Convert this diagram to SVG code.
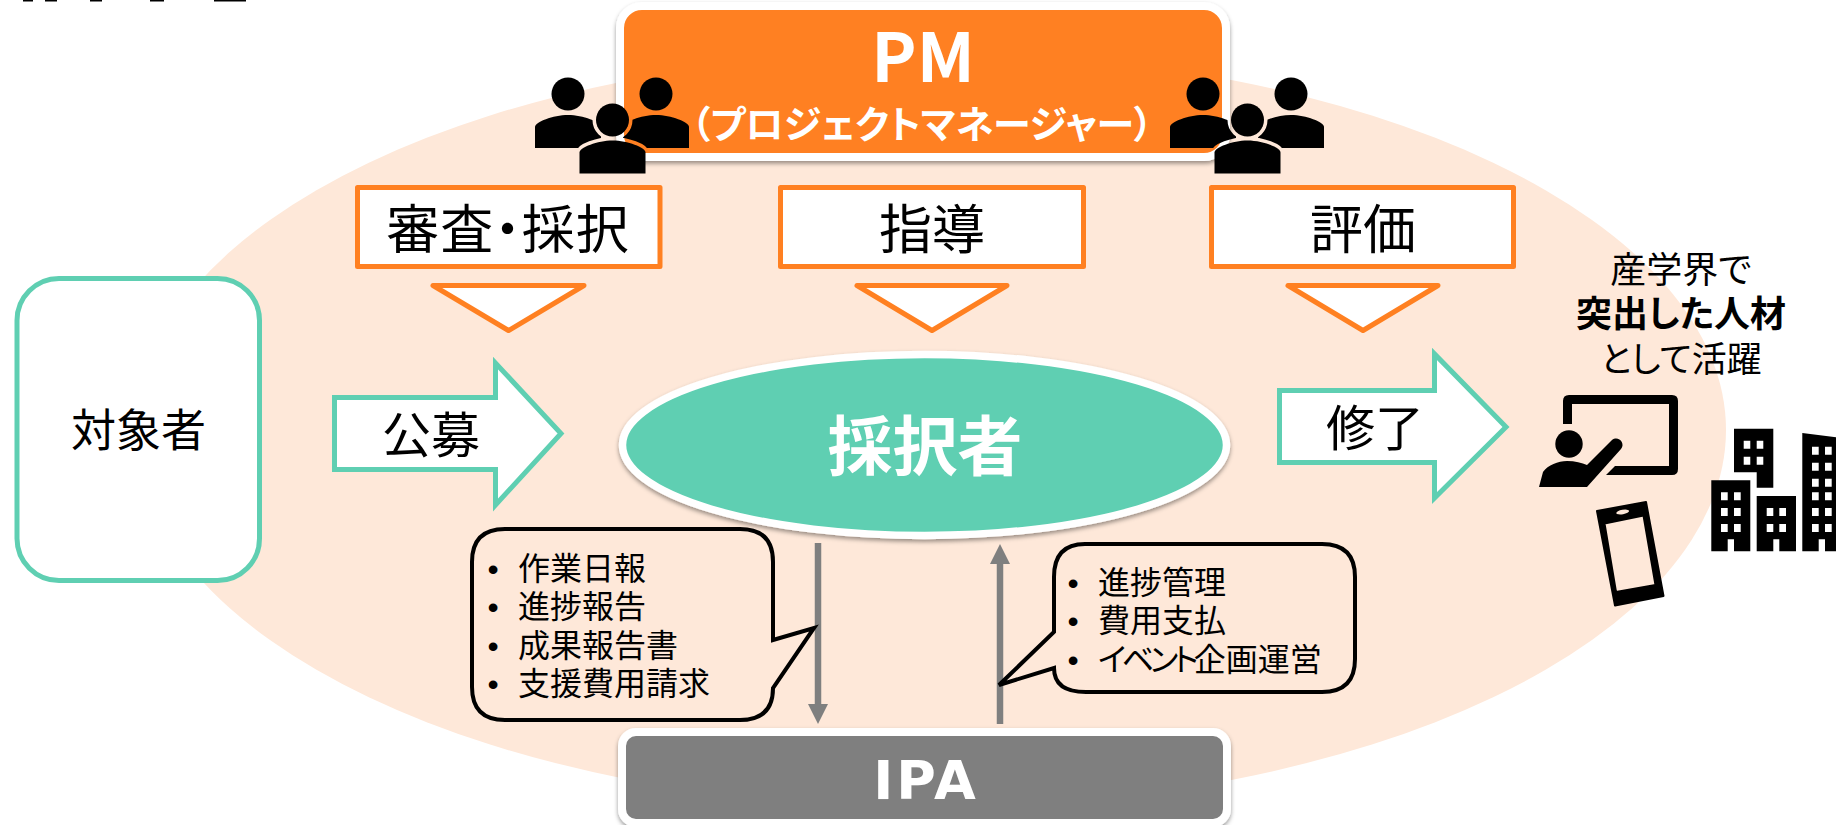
<svg xmlns="http://www.w3.org/2000/svg" width="1836" height="825" viewBox="0 0 1836 825">
<style>
text{font-family:"Noto Sans CJK JP","Noto Sans",sans-serif;fill:#000;font-feature-settings:"palt"}
.c{text-anchor:middle}
.w{fill:#fff;font-weight:700}
.org{fill:#fff;stroke:#FF8021;stroke-width:5;stroke-linejoin:round}
.teal{fill:#fff;stroke:#5FCFB2;stroke-width:5}
.call{fill:#FEE8D9;stroke:#000;stroke-width:4;stroke-linejoin:miter}
.lbl{font-size:53px}
.big{font-size:45px}
.arw{font-size:49px}
.li{font-size:32px;font-feature-settings:normal}
.b{font-family:"Liberation Sans",sans-serif;font-size:32px;text-anchor:middle}
.side{font-size:36px}
.conn{stroke:#7F7F7F;stroke-width:6.5;fill:none}
</style>
<defs>
<filter id="sh" x="-5%" y="-10%" width="110%" height="125%"><feDropShadow dx="0" dy="2.5" stdDeviation="2" flood-color="#000" flood-opacity=".4"/></filter>
<marker id="ah" markerUnits="userSpaceOnUse" markerWidth="21" markerHeight="21" refX="4" refY="10.5" orient="auto"><path d="M0,0.5 L20,10.5 L0,20.5Z" fill="#7F7F7F"/></marker>
<path id="pb" d="M-33,148 V127 C-33,122 -15,115 0,115 C15,115 33,122 33,127 V148Z"/>
<mask id="halo" maskUnits="userSpaceOnUse" x="500" y="60" width="230" height="130">
<rect x="500" y="60" width="230" height="130" fill="#fff"/>
<g fill="#000" stroke="#000" stroke-width="7"><circle cx="612.5" cy="120" r="16.5"/><use href="#pb" x="612.5" y="25.5"/></g>
</mask>
<g id="people">
<g mask="url(#halo)"><circle cx="568" cy="94" r="16.5"/><use href="#pb" x="568"/><circle cx="656" cy="94" r="16.5"/><use href="#pb" x="656"/></g>
<circle cx="612.5" cy="120" r="16.5"/><use href="#pb" x="612.5" y="25.5"/>
</g>
</defs>

<ellipse id="bg" cx="931" cy="430" rx="795" ry="378" fill="#FEE8D9"/>
<g id="clip-top" fill="#000"><rect x="23" y="0" width="10" height="1.5"/><rect x="45" y="0" width="12" height="1.5"/><rect x="90" y="0" width="12" height="1.5"/><rect x="150" y="0" width="14" height="1.5"/><rect x="214" y="0" width="32" height="1.5"/></g>

<g id="connectors">
<line class="conn" x1="818" y1="543" x2="818" y2="708" marker-end="url(#ah)"/>
<line class="conn" x1="1000" y1="724" x2="1000" y2="560" marker-end="url(#ah)"/>
</g>

<g id="pm">
<rect x="620" y="6" width="606" height="151" rx="22" fill="#FF8021" stroke="#fff" stroke-width="8" filter="url(#sh)"/>
<text class="w c" x="923" y="82" font-size="68">PM</text>
<text class="w c" x="922" y="138" font-size="38">（プロジェクトマネージャー）</text>
</g>
<g id="people-left"><use href="#people"/></g>
<g id="people-right"><use href="#people" x="635"/></g>

<g id="review"><rect class="org" x="357.500" y="187.500" width="302.500" height="79"/><text class="lbl c" x="508" y="249" letter-spacing="1">審査・採択</text></g>
<g id="guide"><rect class="org" x="780.500" y="187.500" width="303" height="79"/><text class="lbl c" x="932" y="249">指導</text></g>
<g id="evaluate"><rect class="org" x="1211.500" y="187.500" width="302" height="79"/><text class="lbl c" x="1363" y="249">評価</text></g>
<polygon id="tri1" class="org" points="433,285.500 584,285.500 508.500,330.500"/>
<polygon id="tri2" class="org" points="857,285.500 1007,285.500 932,330.500"/>
<polygon id="tri3" class="org" points="1288,285.500 1438,285.500 1363,330.500"/>

<g id="target"><rect class="teal" x="17" y="278.500" width="242.500" height="302" rx="42"/><text class="big c" x="138.500" y="447">対象者</text></g>
<g id="recruit"><polygon class="teal" points="334.500,397.500 495.500,397.500 495.500,363 561,433.500 495.500,505 495.500,469.500 334.500,469.500"/><text class="arw c" x="431" y="453">公募</text></g>
<g id="selected"><ellipse cx="924.500" cy="445" rx="302" ry="90.500" fill="#5FCFB2" stroke="#fff" stroke-width="7.500" filter="url(#sh)"/><text class="w c" x="925" y="470" font-size="65">採択者</text></g>
<g id="finish"><polygon class="teal" points="1279.500,390.500 1434.500,390.500 1434.500,354 1506,427 1434.500,498 1434.500,462.500 1279.500,462.500"/><text class="arw c" x="1375" y="446">修了</text></g>

<g id="callout-left">
<path class="call" d="M505,529 H740 Q773,529 773,562 V640 L814,628 L773,688 Q773,720 740,720 H505 Q472,720 472,687 V562 Q472,529 505,529Z"/>
<text class="b" x="493" y="580">•</text><text class="li" x="518" y="580">作業日報</text>
<text class="b" x="493" y="618">•</text><text class="li" x="518" y="618">進捗報告</text>
<text class="b" x="493" y="656.500">•</text><text class="li" x="518" y="656.500">成果報告書</text>
<text class="b" x="493" y="695">•</text><text class="li" x="518" y="695">支援費用請求</text>
</g>
<g id="callout-right">
<path class="call" d="M1085,544 H1322 Q1355,544 1355,577 V659 Q1355,692 1322,692 H1086 Q1054,692 1054,668 L999,685 L1054,632 V577 Q1054,544 1085,544Z"/>
<text class="b" x="1073" y="594">•</text><text class="li" x="1098" y="594">進捗管理</text>
<text class="b" x="1073" y="632">•</text><text class="li" x="1098" y="632">費用支払</text>
<text class="b" x="1073" y="670.500">•</text><text class="li" x="1098" y="670.500" style="font-feature-settings:'palt'"><tspan letter-spacing="-4.5">イベント</tspan>企画運営</text>
</g>

<g id="ipa"><rect x="622" y="732" width="605" height="91" rx="14" fill="#7F7F7F" stroke="#fff" stroke-width="8" filter="url(#sh)"/><text class="w c" x="926" y="799" font-size="54" letter-spacing="3" style="font-family:'DejaVu Sans',sans-serif">IPA</text></g>

<g id="career">
<text class="side c" x="1681" y="283">産学界で</text>
<text class="side c" x="1681" y="327" font-weight="700">突出した人材</text>
<text class="side c" x="1681" y="372" style="font-size:35px">として活躍</text>
</g>
<g id="teacher">
<path d="M1563,424 V401 Q1563,395 1569,395 H1672 Q1678,395 1678,401 V469 Q1678,475 1672,475 H1606 L1615,466 H1669 V404 H1572 V424Z"/>
<circle cx="1569" cy="444" r="13.700"/>
<path d="M1539,487 L1543,472 C1548,465 1558,461 1567,461 C1575,461 1582,463 1587,465 L1612,440 C1618,435 1626,443 1621,449 L1587,487Z"/>
</g>
<g id="phone">
<path fill-rule="evenodd" stroke="#000" stroke-width="2" stroke-linejoin="round" d="M1597,511 L1646,502 L1663.500,596 L1615,605.500Z M1604.500,523.500 L1643.500,515.500 L1655.500,585 L1616,592Z"/>
<ellipse cx="1622.700" cy="512" rx="6.500" ry="2.200" fill="#FEE8D9" transform="rotate(-10 1622.700 512)"/>
</g>
<g id="buildings">
<path fill-rule="evenodd" d="M1734,428.700 H1773.300 V487.700 H1756.700 V472.300 H1734Z M1743.700,440.700 V448.700 H1750.300 V440.700Z M1756.700,440.700 V448.700 H1763.300 V440.700Z M1743.700,456.700 V464.700 H1750.300 V456.700Z M1756.700,456.700 V464.700 H1763.300 V456.700Z"/>
<path fill-rule="evenodd" d="M1711.300,480.300 H1750.300 V551.300 H1734 V539.300 H1727.700 V551.300 H1711.300Z M1721,492.300 V500.300 H1727.700 V492.300Z M1734,492.300 V500.300 H1740.700 V492.300Z M1721,508 V516 H1727.700 V508Z M1734,508 V516 H1740.700 V508Z M1721,524 V532 H1727.700 V524Z M1734,524 V532 H1740.700 V524Z"/>
<path fill-rule="evenodd" d="M1756.700,496 H1796 V551.300 H1779.300 V539.300 H1773.300 V551.300 H1756.700Z M1766.700,508 V516 H1773.300 V508Z M1779.300,508 V516 H1786 V508Z M1766.700,524 V532 H1773.300 V524Z M1779.300,524 V532 H1786 V524Z"/>
<path fill-rule="evenodd" d="M1802.300,433 L1836,437.300 V551.300 H1825 V539.300 H1818.700 V551.300 H1802.300Z M1812,446.700 V454.700 H1818.700 V446.700Z M1825,446.700 V454.700 H1831.700 V446.700Z M1812,462.700 V470.700 H1818.700 V462.700Z M1825,462.700 V470.700 H1831.700 V462.700Z M1812,478.700 V486.700 H1818.700 V478.700Z M1825,478.700 V486.700 H1831.700 V478.700Z M1812,492.300 V500.300 H1818.700 V492.300Z M1825,492.300 V500.300 H1831.700 V492.300Z M1812,508 V516 H1818.700 V508Z M1825,508 V516 H1831.700 V508Z M1812,524 V532 H1818.700 V524Z M1825,524 V532 H1831.700 V524Z"/>
</g>
</svg>
